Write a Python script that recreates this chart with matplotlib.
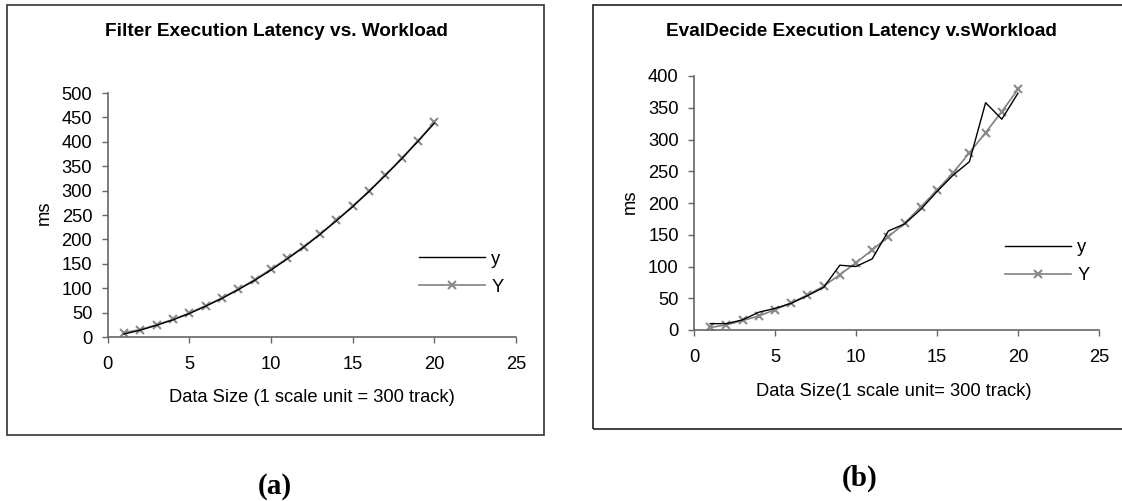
import matplotlib.pyplot as plt
from matplotlib.patches import Rectangle

plt.rcParams['font.family'] = ['Liberation Sans', 'DejaVu Sans']

# data
sizes = list(range(1, 21))

filter_y = [6, 14, 24, 35, 48, 63, 79, 97, 116, 137, 160, 184, 210, 238, 267, 298, 331, 365, 401, 438]
filter_Y = [9, 15, 25, 36, 49, 64, 80, 98, 117, 139, 161, 185, 211, 239, 268, 299, 332, 366, 402, 440]

eval_y = [10, 10, 16, 28, 34, 42, 54, 67, 102, 100, 112, 156, 167, 190, 218, 244, 265, 358, 332, 373]
eval_Y = [4, 8, 15, 22, 32, 43, 55, 69, 87, 106, 126, 147, 168, 194, 220, 248, 279, 311, 344, 379]

W, H = 1122, 501
fig = plt.figure(figsize=(W / 100, H / 100), dpi=100)

FS = 13.2  # body text size


def fx(px):
    return px / W


def fy(py):
    return 1 - py / H


# outer boxes round each chart
fig.patches.append(Rectangle((fx(7), fy(435)), fx(544 - 7), (435 - 5) / H,
                             transform=fig.transFigure, fill=False, lw=1.2, ec='#333333'))
fig.patches.append(Rectangle((fx(593), fy(429)), fx(1130 - 593), (429 - 5) / H,
                             transform=fig.transFigure, fill=False, lw=1.2, ec='#222222'))


def panel(rect, ys, Ys, ymax, ystep, title, tpos, xlab, xpos, mspos, legpos):
    ax = fig.add_axes(rect)
    # black line sits on top of the grey marked one
    ax.plot(sizes, ys, color='black', lw=1.0, label='y', zorder=3)
    ax.plot(sizes, Ys, color='#808080', lw=1.2, marker='x', ms=6, mew=1.5,
            mec='#8a8a8a', label='Y', zorder=2)
    ax.set_xlim(0, 25)
    ax.set_ylim(0, ymax)
    ax.set_xticks(range(0, 26, 5))
    ax.set_yticks(range(0, ymax + 1, ystep))
    for s in ['top', 'right']:
        ax.spines[s].set_visible(False)
    for s in ['left', 'bottom']:
        ax.spines[s].set_color('#666666')
        ax.spines[s].set_linewidth(1.2)
    ax.tick_params(axis='both', direction='out', length=4, width=1, color='#666666',
                   labelsize=FS)
    ax.tick_params(axis='x', pad=10)
    ax.tick_params(axis='y', pad=7)
    fig.text(fx(tpos[0]), fy(tpos[1]), title, ha='center', va='center',
             fontsize=13.7, fontweight='bold')
    fig.text(fx(xpos[0]), fy(xpos[1]), xlab, ha='center', va='center', fontsize=FS)
    fig.text(fx(mspos[0]), fy(mspos[1]), 'ms', ha='center', va='center',
             fontsize=FS, rotation=90)
    ax.legend(loc='center left', bbox_to_anchor=(fx(legpos[0]), fy(legpos[1])),
              bbox_transform=fig.transFigure, frameon=False, fontsize=FS,
              handlelength=3.6, handletextpad=0.35, labelspacing=0.6,
              borderpad=0, borderaxespad=0, numpoints=1)
    return ax


panel([fx(107.5), fy(337), fx(516 - 107.5), (337 - 93) / H],
      filter_y, filter_Y, 500, 50,
      'Filter Execution Latency vs. Workload', (276, 31),
      'Data Size (1 scale unit = 300 track)', (312, 398), (44, 213), (419, 273))

panel([fx(694), fy(330), fx(1099 - 694), (330 - 76) / H],
      eval_y, eval_Y, 400, 50,
      'EvalDecide Execution Latency v.sWorkload', (861, 31),
      'Data Size(1 scale unit= 300 track)', (894, 392), (630, 202), (1005, 261.5))

fig.text(fx(275), fy(486), '(a)', ha='center', va='center', fontsize=21,
         fontweight='bold', family='Liberation Serif')
fig.text(fx(860), fy(478), '(b)', ha='center', va='center', fontsize=21,
         fontweight='bold', family='Liberation Serif')

fig.savefig('out.png', dpi=100)
